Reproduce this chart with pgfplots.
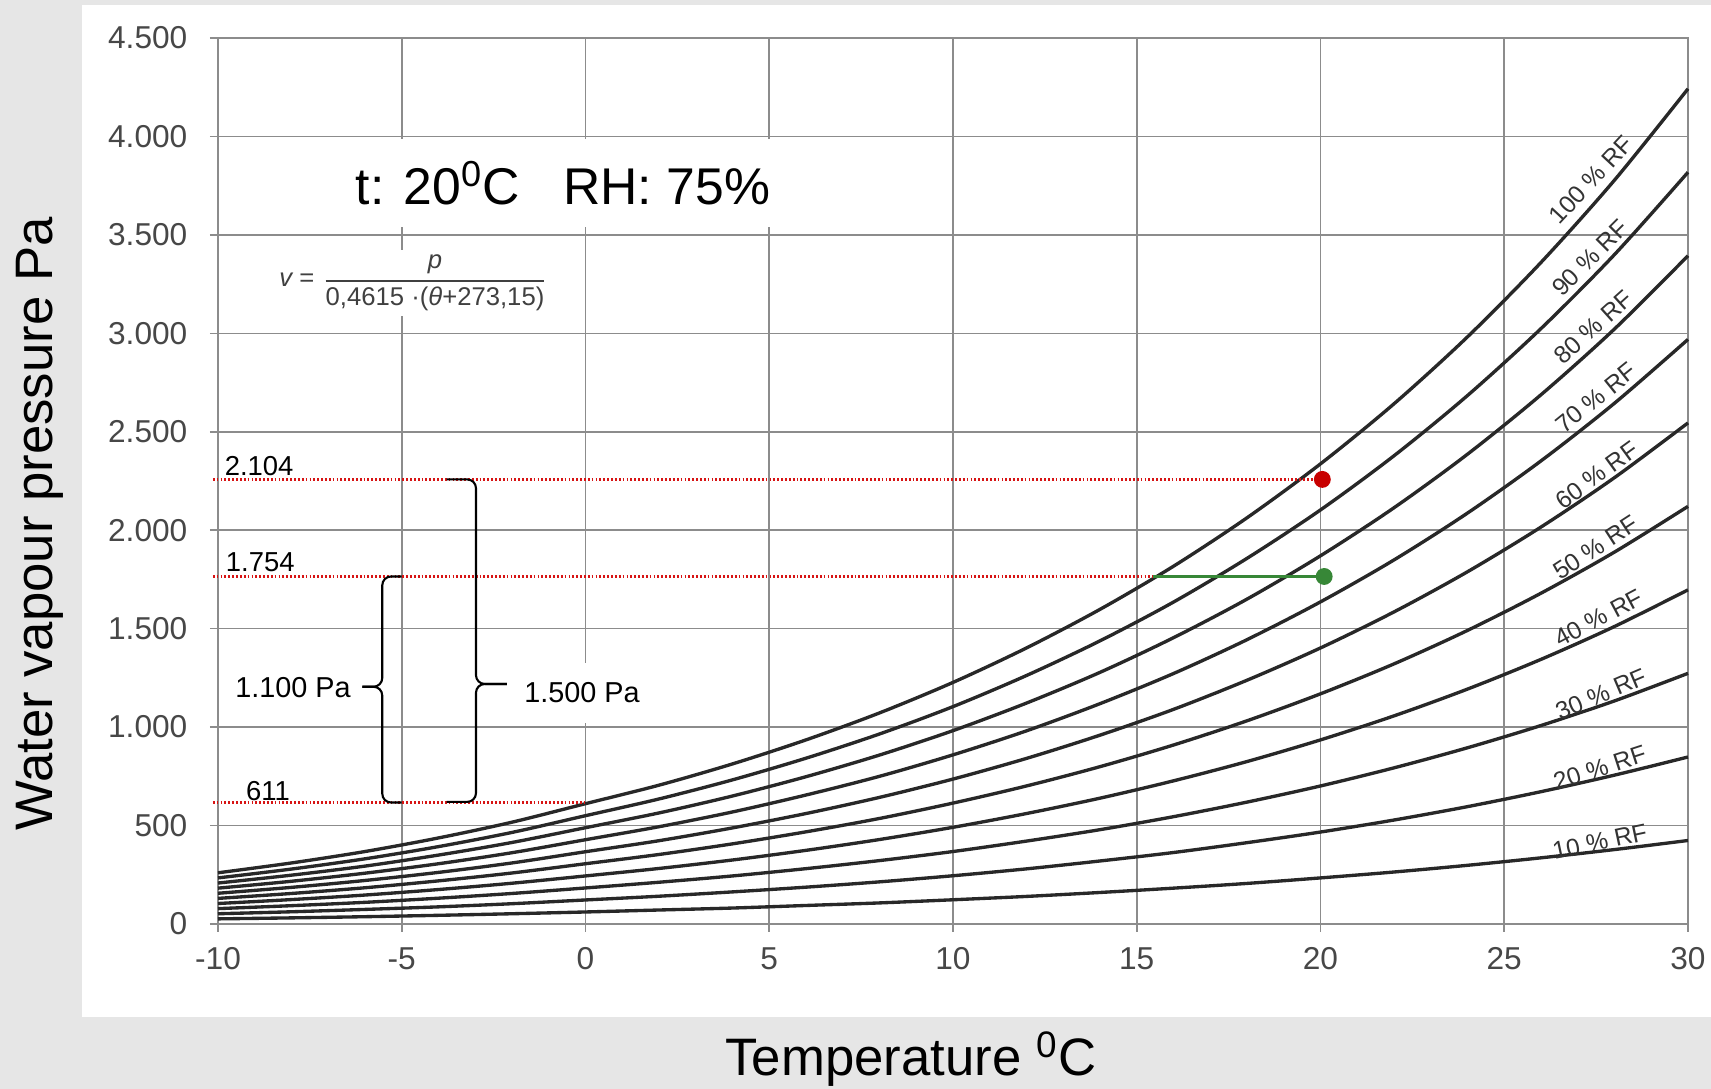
\documentclass[border=0pt]{standalone}
\usepackage{fontspec}
\setmainfont{Liberation Sans}
\usepackage{pgfplots}
\pgfplotsset{compat=1.18}
\usepackage{pgfplotstable}
\definecolor{bggray}{RGB}{230,230,230}
\definecolor{gridgray}{RGB}{140,140,140}
\definecolor{curvecol}{RGB}{40,40,40}
\definecolor{dotred}{RGB}{200,0,0}
\definecolor{dotgreen}{RGB}{55,135,55}
\definecolor{linered}{RGB}{215,20,20}

\pgfplotstableread{
T r10 r20 r30 r40 r50 r60 r70 r80 r90 r100
-10 26 52 78 104 130 156 182 208 234 260
-8 31 62 93 124 155 186 217 248 279 310
-6 37 74 110 147 184 221 258 294 331 368
-4 44 87 131 175 219 262 306 350 393 437
-2 52 103 155 207 259 310 362 414 465 517
0 61 122 183 244 306 367 428 489 550 611
2 71 141 212 282 353 423 494 564 635 705
4 81 163 244 325 407 488 569 650 732 813
6 94 187 281 374 468 561 655 748 842 935
8 107 214 322 429 536 643 750 858 965 1072
10 123 245 368 491 614 736 859 982 1104 1227
12 140 280 421 561 701 841 981 1122 1262 1402
14 160 320 479 639 799 959 1119 1278 1438 1598
16 182 363 545 727 909 1090 1272 1454 1635 1817
18 206 413 619 825 1032 1238 1444 1650 1857 2063
20 234 467 701 935 1169 1402 1636 1870 2103 2337
22 264 528 793 1057 1321 1585 1849 2114 2378 2642
24 298 596 895 1193 1491 1789 2087 2386 2684 2982
26 336 672 1008 1344 1680 2016 2352 2688 3024 3360
28 378 756 1133 1511 1889 2267 2645 3022 3400 3778
30 424 848 1273 1697 2121 2545 2969 3394 3818 4242
}\rfdata

\begin{document}
\begin{tikzpicture}
\useasboundingbox (0,0) rectangle (17.11,10.89);
\fill[bggray] (0,0) rectangle (17.11,10.89);
\fill[white] (0.82,0.72) rectangle (17.11,10.835);
\begin{axis}[
  at={(2.18cm,1.65cm)}, anchor=south west,
  scale only axis, width=14.70cm, height=8.86cm,
  xmin=-10, xmax=30, ymin=0, ymax=4500,
  xtick={-10,-5,0,5,10,15,20,25,30},
  ytick={0,500,1000,1500,2000,2500,3000,3500,4000,4500},
  grid=major,
  major grid style={draw=gridgray, line width=0.45pt},
  axis line style={draw=gridgray, line width=0.5pt},
  tick style={draw=gridgray, line width=0.45pt},
  tick align=outside,
  major tick length=0.08cm,
  tick pos=left,
  tick label style={font=\fontsize{9}{10}\selectfont, text=black!72},
  yticklabel style={anchor=east, inner sep=0pt, xshift=-0.22cm},
  xticklabel style={anchor=north, inner sep=0pt, yshift=-0.15cm},
  scaled y ticks=false,
  /pgf/number format/1000 sep={.},
  /pgf/number format/assume math mode=true,
  clip=false,
]
\pgfplotsinvokeforeach{r10,r20,r30,r40,r50,r60,r70,r80,r90,r100}{
  \addplot[curvecol, line width=0.95pt, smooth, no marks] table[x=T,y=#1]{\rfdata};
}
% reference lines
\addplot[linered, line width=0.8pt, dash pattern={on 0.5pt off 0.6pt}, no marks] coordinates {(-10.14,2258) (20,2258)};
\addplot[linered, line width=0.8pt, dash pattern={on 0.5pt off 0.6pt}, no marks] coordinates {(-10.14,1765) (20,1765)};
\addplot[linered, line width=0.8pt, dash pattern={on 0.5pt off 0.6pt}, no marks] coordinates {(-10.14,618) (0,618)};
\addplot[dotgreen, line width=0.9pt, no marks] coordinates {(15.44,1765) (20.1,1765)};
\addplot[only marks, mark=*, mark size=2.2pt, dotred, mark options={draw=dotred, fill=dotred}] coordinates {(20.05,2258)};
\addplot[only marks, mark=*, mark size=2.2pt, dotgreen, mark options={draw=dotgreen, fill=dotgreen}] coordinates {(20.1,1765)};

% braces
\draw[line width=0.6pt, rounded corners=2.5pt] (axis cs:-5,1765) -- (axis cs:-5.53,1765) -- (axis cs:-5.53,1205) -- (axis cs:-6.07,1205);
\draw[line width=0.6pt, rounded corners=2.5pt] (axis cs:-6.07,1205) -- (axis cs:-5.53,1205) -- (axis cs:-5.53,617) -- (axis cs:-5,617);
\draw[line width=0.6pt, rounded corners=2.5pt] (axis cs:-3.78,2258) -- (axis cs:-2.98,2258) -- (axis cs:-2.98,1219) -- (axis cs:-2.14,1219);
\draw[line width=0.6pt, rounded corners=2.5pt] (axis cs:-2.14,1219) -- (axis cs:-2.98,1219) -- (axis cs:-2.98,620) -- (axis cs:-3.78,620);

% value labels
\node[font=\fontsize{7.8}{9}\selectfont, inner sep=0pt] at (axis cs:-8.88,2328) {2.104};
\node[font=\fontsize{7.8}{9}\selectfont, inner sep=0pt] at (axis cs:-8.85,1840) {1.754};
\node[font=\fontsize{7.8}{9}\selectfont, inner sep=0pt] at (axis cs:-8.64,677) {611};
\node[font=\fontsize{8.2}{10}\selectfont, inner sep=0pt] at (axis cs:-7.96,1199) {1.100 Pa};
\node[font=\fontsize{8.2}{10}\selectfont, fill=white, inner xsep=2pt, inner ysep=0.2cm] at (axis cs:-0.095,1173) {1.500 Pa};

% RF labels
\begin{scope}[every node/.style={font=\fontsize{7}{8}\selectfont, text=black!80, inner sep=0pt}]
\node[rotate=47] at (axis cs:27.36,3779) {100 \% RF};
\node[rotate=45] at (axis cs:27.33,3383) {90 \% RF};
\node[rotate=42] at (axis cs:27.42,3032) {80 \% RF};
\node[rotate=39] at (axis cs:27.50,2672) {70 \% RF};
\node[rotate=36] at (axis cs:27.52,2280) {60 \% RF};
\node[rotate=33] at (axis cs:27.49,1911) {50 \% RF};
\node[rotate=28] at (axis cs:27.58,1554) {40 \% RF};
\node[rotate=23] at (axis cs:27.63,1168) {30 \% RF};
\node[rotate=18] at (axis cs:27.60,792) {20 \% RF};
\node[rotate=12] at (axis cs:27.60,418) {10 \% RF};
\end{scope}
\end{axis}

% big annotation and formula
\node[anchor=base west, fill=white, inner xsep=2pt, inner ysep=0.22cm, font=\fontsize{14.7}{17}\selectfont] at (3.48,8.84) {t: 20\textsuperscript{0}C\ \ \ RH: 75\%};
\node[fill=white, inner sep=1.5pt, font=\fontsize{7.3}{9}\selectfont, text=black!75] at (4.14,8.06) {\itshape v\upshape\ = $\displaystyle\frac{\mbox{\itshape p}}{\mbox{0,4615 ·(\itshape θ\upshape+273,15)}}$};

% axis titles
\node[rotate=90, font=\fontsize{15}{18}\selectfont] at (0.40,5.65) {Water vapour pressure Pa};
\node[font=\fontsize{15}{18}\selectfont] at (9.11,0.30) {Temperature \textsuperscript{0}C};
\end{tikzpicture}
\end{document}
